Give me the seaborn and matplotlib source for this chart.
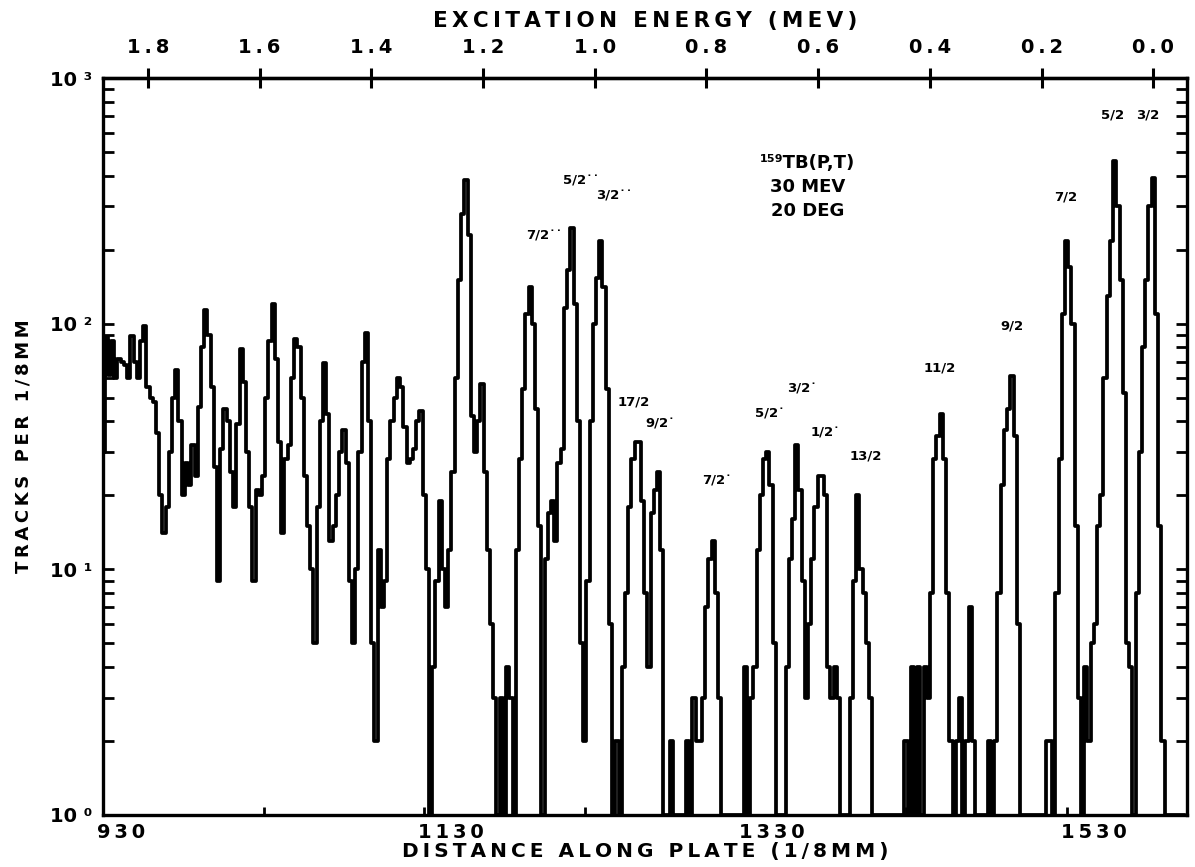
import numpy as np
import matplotlib
matplotlib.use('Agg')
import matplotlib.pyplot as plt
import matplotlib.transforms as mtransforms
from matplotlib.ticker import FixedLocator, NullFormatter
import seaborn as sns

# spectrum digitised in channels of 2 units (1/8 mm), starting at 930
dist_start = 930
bin_width = 2

# tracks per channel, one row = 20 units along the plate
counts = [
    30, 88, 62, 85, 60, 72, 70, 68, 60, 89,       # 930
    70, 60, 85, 98, 55, 50, 48, 36, 20, 14,       # 950
    18, 30, 50, 65, 40, 20, 27, 22, 32, 24,       # 970
    46, 80, 114, 90, 55, 26, 9, 31, 45, 40,       # 990
    25, 18, 39, 79, 58, 30, 18, 9, 21, 20,        # 1010
    24, 50, 85, 120, 72, 33, 14, 28, 32, 60,      # 1030
    87, 80, 50, 24, 15, 10, 5, 18, 40, 69,        # 1050
    43, 13, 15, 20, 30, 37, 27, 9, 5, 10,         # 1070
    30, 70, 92, 40, 5, 2, 12, 7, 9, 28,           # 1090
    40, 50, 60, 55, 38, 27, 28, 31, 40, 44,       # 1110
    20, 10, 1, 4, 9, 19, 10, 7, 12, 25,           # 1130
    60, 150, 280, 385, 230, 42, 30, 40, 57, 25,   # 1150
    12, 6, 3, 1, 3, 1, 4, 3, 1, 12,               # 1170
    28, 54, 110, 141, 100, 45, 15, 1, 11, 17,     # 1190
    19, 13, 27, 31, 116, 165, 246, 120, 40, 5,    # 1210
    2, 9, 40, 100, 153, 218, 141, 54, 6, 1,       # 1230
    2, 1, 4, 8, 18, 28, 33, 33, 19, 8,            # 1250
    4, 17, 21, 25, 12, 1, 1, 2, 1, 1,             # 1270
    1, 1, 2, 1, 3, 2, 2, 3, 7, 11,                # 1290
    13, 8, 3, 1, 1, 1, 1, 1, 1, 1,                # 1310
    4, 1, 3, 4, 12, 20, 28, 30, 22, 5,            # 1330
    1, 1, 1, 4, 11, 16, 32, 21, 9, 3,             # 1350
    6, 11, 18, 24, 24, 20, 4, 3, 4, 3,            # 1370
    1, 1, 1, 3, 9, 20, 10, 8, 5, 3,               # 1390
    1, 1, 1, 1, 1, 1, 1, 1, 1, 1,                 # 1410
    2, 1, 4, 1, 4, 1, 4, 3, 8, 28,                # 1430
    35, 43, 28, 8, 2, 1, 2, 3, 1, 2,              # 1450
    7, 2, 1, 1, 1, 1, 2, 1, 2, 8,                 # 1470
    22, 37, 45, 61, 35, 6, 1, 1, 1, 1,            # 1490
    1, 1, 1, 1, 2, 2, 1, 8, 28, 110,              # 1510
    218, 170, 100, 15, 3, 1, 4, 2, 5, 6,          # 1530
    15, 20, 60, 130, 218, 460, 300, 150, 52, 5,   # 1550
    4, 1, 8, 30, 80, 150, 300, 390, 110, 15,      # 1570
    2, 1, 1, 1, 1, 1, 1, 1,                       # 1590
]

# axis ticks
dist_ticks = [930, 1130, 1330, 1530]
dist_minor = [1030, 1230, 1430]
energy_ticks = [1.8, 1.6, 1.4, 1.2, 1.0, 0.8, 0.6, 0.4, 0.2, 0.0]
decades = [1, 10, 100, 1000]
decade_labels = ['10 \u2070', '10 \u00b9', '10 \u00b2', '10 \u00b3']

# energy calibration: ground state position and channels per MeV
e0_dist = 1584
dist_per_mev = 347.8

# spin assignments written above the peaks
spin_text = ['5/2', '3/2', '7/2', '9/2', '11/2', '13/2', '1/2\u02d9', '3/2\u02d9',
             '5/2\u02d9', '7/2\u02d9', '9/2\u02d9', '17/2', '3/2\u02d9\u02d9',
             '5/2\u02d9\u02d9', '7/2\u02d9\u02d9']
spin_dist = [1558.6, 1580.3, 1529.4, 1495.8, 1451, 1405, 1380, 1365,
             1345, 1312.6, 1277, 1260.4, 1248.6, 1227.5, 1205]
spin_count = [706, 706, 327, 98, 66, 29, 36, 54, 43, 22.9, 39, 48, 331, 380, 227]

# reaction / beam energy / angle caption
reaction_lines = ['\u00b9\u2075\u2079TB(P,T)', '30 MEV', '20 DEG']
reaction_count = [451, 360, 287]


def spaced(s):
    # the plotter lettering is widely spaced
    return '\u2009'.join(s)


def to_mev(d):
    return (e0_dist - np.asarray(d, dtype=float)) / dist_per_mev


def to_dist(e):
    return e0_dist - np.asarray(e, dtype=float) * dist_per_mev


sns.set_style('white')
plt.rcParams['font.family'] = ['DejaVu Sans']
plt.rcParams['font.weight'] = 'bold'
plt.rcParams['text.color'] = 'black'
plt.rcParams['axes.labelcolor'] = 'black'
plt.rcParams['xtick.color'] = 'black'
plt.rcParams['ytick.color'] = 'black'

fig = plt.figure(figsize=(11.95, 8.67), dpi=100)
ax = fig.add_axes([0.0862, 0.0600, 0.9071, 0.8500])

dist = dist_start + bin_width * np.arange(len(counts))
sns.lineplot(x=dist, y=counts, ax=ax, color='black', linewidth=2.7,
             drawstyle='steps-mid', estimator=None)
ax.set_yscale('log')
ax.set_xlim(930, 1605)
ax.set_ylim(1, 1000)

for sp in ax.spines.values():
    sp.set_linewidth(2.4)
    sp.set_color('black')

# y axis: decades with minor ticks on both sides
ax.yaxis.set_major_locator(FixedLocator(decades))
ax.set_yticklabels(decade_labels)
minor_y = [m * d for d in decades[:-1] for m in range(2, 10)]
ax.yaxis.set_minor_locator(FixedLocator(minor_y))
ax.yaxis.set_minor_formatter(NullFormatter())
ax.tick_params(axis='y', which='both', direction='in', length=8, width=2,
               left=True, right=True, labelsize=14, pad=8)

# bottom axis
ax.set_xticks(dist_ticks)
ax.set_xticks(dist_minor, minor=True)
ax.set_xticklabels([spaced(str(t)) for t in dist_ticks])
ax.tick_params(axis='x', which='both', direction='in', length=6, width=2,
               bottom=True, top=False, labelsize=14, pad=6)
offset = mtransforms.ScaledTranslation(-6 / 100, 0, fig.dpi_scale_trans)
for lab in ax.get_xticklabels():
    lab.set_horizontalalignment('left')
    lab.set_transform(lab.get_transform() + offset)

ax.set_xlabel(spaced('DISTANCE ALONG PLATE (1/8MM)'), fontsize=14.5,
              fontweight='bold', labelpad=0)
ax.set_ylabel(spaced('TRACKS PER 1/8MM'), fontsize=13, fontweight='bold',
              labelpad=12)

# top axis in excitation energy
sec = ax.secondary_xaxis('top', functions=(to_mev, to_dist))
sec.set_xticks(energy_ticks)
sec.set_xticklabels([spaced(f'{e:.1f}') for e in energy_ticks])
sec.tick_params(direction='inout', length=14, width=2.2, labelsize=14, pad=8)
sec.spines['top'].set_linewidth(2.4)
sec.set_xlabel(spaced('EXCITATION ENERGY (MEV)'), fontsize=15.5,
               fontweight='bold', labelpad=8)

# peak labels
for txt, d, c in zip(spin_text, spin_dist, spin_count):
    ax.text(d, c, txt, fontsize=9.5, fontweight='bold', ha='center',
            va='center')

for txt, c in zip(reaction_lines, reaction_count):
    ax.text(1369, c, txt, fontsize=13, fontweight='bold', ha='center',
            va='center')

plt.savefig('out.png', dpi=100)
